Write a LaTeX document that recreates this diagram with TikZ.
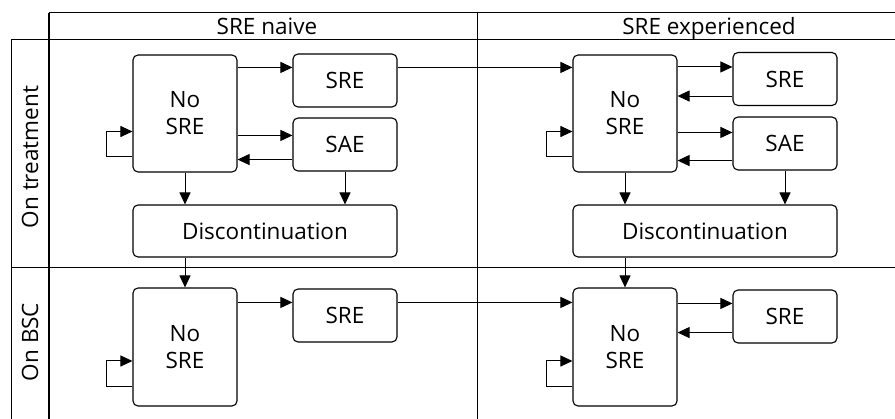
\documentclass[tikz,border=0pt]{standalone}
\usepackage{fontspec}
\setmainfont{Open Sans}
\usetikzlibrary{arrows.meta}

\begin{document}
\begin{tikzpicture}[x=1pt,y=-1pt,
    font=\fontsize{22.5}{27}\selectfont,
    state/.style={draw, rounded corners=5pt, line width=1.1pt, minimum width=104pt, align=center},
    arr/.style={-{Triangle[length=12pt,width=11pt]}, line width=1pt},
    grid/.style={line width=1pt}]

    \useasboundingbox (0,0) rectangle (895,419);

    % Table lines
    \draw[grid] (49,13) -- (895,13);
    \draw[grid] (11,40) -- (895,40);
    \draw[grid] (11,268) -- (895,268);
    \draw[grid] (11,40) -- (11,419);
    \draw[grid, line width=2pt] (49,13) -- (49,419);
    \draw[grid] (477,13) -- (477,419);

    % Headers
    \node[anchor=base] (hdNaive) at (267,34.5) {SRE naive};
    \node[anchor=base] (hdExp) at (709,34.5) {SRE experienced};
    \node[rotate=90] (rowTreat) at (30,157) {On treatment};
    \node[rotate=90] (rowBSC) at (30,342) {On BSC};

    % SRE naive, on treatment
    \node[state, minimum height=117pt] (nsA) at (185,113.5) {No\\SRE};
    \node[state, minimum height=53pt] (sreA) at (345,80.5) {SRE};
    \node[state, minimum height=53pt] (saeA) at (345,144.5) {SAE};
    \node[state, minimum width=264pt, minimum height=52pt] (discA) at (265,231) {Discontinuation};

    % SRE naive, on BSC
    \node[state, minimum height=118pt] (nsB) at (185,347) {No\\SRE};
    \node[state, minimum height=53pt] (sreB) at (345,315.5) {SRE};

    % SRE experienced, on treatment
    \node[state, minimum height=117pt] (nsC) at (625,113.5) {No\\SRE};
    \node[state, minimum height=53pt] (sreC) at (785,79) {SRE};
    \node[state, minimum height=53pt] (saeC) at (785,143.5) {SAE};
    \node[state, minimum width=264pt, minimum height=52pt] (discC) at (705,231) {Discontinuation};

    % SRE experienced, on BSC
    \node[state, minimum height=118pt] (nsD) at (625,347) {No\\SRE};
    \node[state, minimum height=53pt] (sreD) at (785,316.5) {SRE};

    % Arrows, naive
    \coordinate (a1) at ([yshift=-14pt]sreA.north west);
    \coordinate (a2) at ([yshift=-18pt]saeA.north west);
    \coordinate (a3) at ([yshift=12pt]saeA.south west);
    \draw[arr] (nsA.east |- a1) -- (a1);
    \draw[arr] (nsA.east |- a2) -- (a2);
    \draw[arr] (a3) -- (nsA.east |- a3);
    \draw[arr] ([yshift=16pt]nsA.south west) -- ++(-26,0) |- ([yshift=-18pt]nsA.west);
    \draw[arr] (nsA.south) -- (discA.north -| nsA.south);
    \draw[arr] (saeA.south) -- (discA.north -| saeA.south);
    \draw[arr] (discA.south -| nsB.north) -- (nsB.north);
    \coordinate (b1) at ([yshift=-14pt]sreB.north west);
    \draw[arr] (nsB.east |- b1) -- (b1);
    \draw[arr] ([yshift=20pt]nsB.south west) -- ++(-26,0) |- ([yshift=-14pt]nsB.west);

    % Naive to experienced
    \draw[arr] (sreA.east |- a1) -- (nsC.west |- a1);
    \draw[arr] (sreB.east |- b1) -- (nsD.west |- b1);

    % Arrows, experienced
    \coordinate (c1) at ([yshift=-15pt]sreC.north west);
    \coordinate (c2) at ([yshift=10pt]sreC.south west);
    \coordinate (c3) at ([yshift=-16pt]saeC.north west);
    \coordinate (c4) at ([yshift=10pt]saeC.south west);
    \draw[arr] (nsC.east |- c1) -- (c1);
    \draw[arr] (c2) -- (nsC.east |- c2);
    \draw[arr] (nsC.east |- c3) -- (c3);
    \draw[arr] (c4) -- (nsC.east |- c4);
    \draw[arr] ([yshift=16pt]nsC.south west) -- ++(-26,0) |- ([yshift=-18pt]nsC.west);
    \draw[arr] (nsC.south) -- (discC.north -| nsC.south);
    \draw[arr] (saeC.south) -- (discC.north -| saeC.south);
    \draw[arr] (discC.south -| nsD.north) -- (nsD.north);
    \coordinate (d1) at ([yshift=-14pt]sreD.north west);
    \coordinate (d2) at ([yshift=11pt]sreD.south west);
    \draw[arr] (nsD.east |- d1) -- (d1);
    \draw[arr] (d2) -- (nsD.east |- d2);
    \draw[arr] ([yshift=20pt]nsD.south west) -- ++(-26,0) |- ([yshift=-14pt]nsD.west);

\end{tikzpicture}
\end{document}
